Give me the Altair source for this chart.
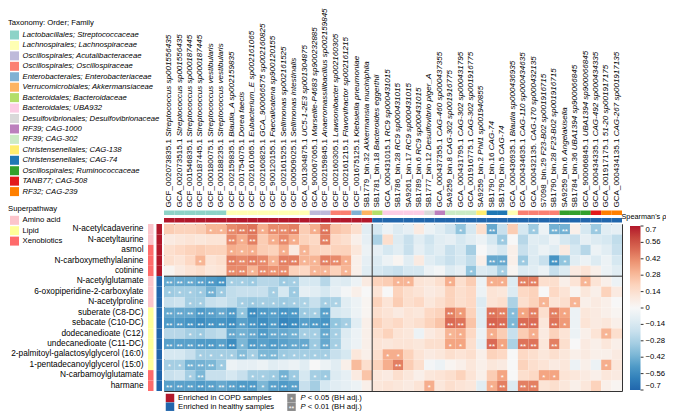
import altair as alt
import pandas as pd

FONT = "Liberation Sans"
FS = 8.3
CFS = 8.05
LFS = 7.7

# ---------------- data ----------------
accessions = [
    "GCF_002073835.1", "GCA_002073515.1", "GCF_001546835.1", "GCF_000187445.1",
    "GCF_000180075.1", "GCF_000188235.1", "GCF_002159835.1", "GCF_001754075.1",
    "GCF_002161065.1", "GCF_002160825.1", "GCF_900120155.1", "GCF_002161525.1",
    "GCF_000509025.1", "GCA_001304875.1", "GCA_900067065.1", "GCF_002159845.1",
    "GCF_002160305.1", "GCF_002161215.1", "GCF_001675125.1", "SB1779_bin.32",
    "SB1781_bin.18", "GCA_000431015.1", "SB1786_bin.28", "SA9261_bin.17",
    "SB1789_bin.6", "SB1777_bin.12", "GCA_000437355.1", "SA9259_bin.8",
    "GCA_000431795.1", "GCA_001916775.1", "SA9259_bin.2", "SB1790_bin.16",
    "SB1790_bin.5", "GCA_000436935.1", "GCA_000434635.1", "GCA_000432135.",
    "S7098_bin.29", "SB1790_bin.28", "SA9259_bin.6", "SB1784_bin.36",
    "GCA_900066845.1", "GCA_000434335.1", "GCA_001917175.1", "GCA_000434135.1",
]
species = [
    "Streptococcus sp001556435", "Streptococcus sp001556435", "Streptococcus sp000187445",
    "Streptococcus sp000187445", "Streptococcus vestibularis", "Streptococcus vestibularis",
    "Blautia_A sp002159835", "Dorea faecis", "Eubacterium_E sp002161065",
    "GCA_900066575 sp002160825", "Faecalicatena sp900120155", "Sellimonas sp002161525",
    "Sellimonas intestinalis", "UC5-1-2E3 sp001304875", "Marseille-P4683 sp900232885",
    "Anaeromassilibacillus sp002159845", "Lawsonibacter sp002160305", "Flavonifractor sp002161215",
    "Klebsiella pneumoniae", "Akkermansia muciniphila", "Bacteroides eggerthii",
    "RC9 sp000431015", "RC9 sp000431015", "RC9 sp000431015", "RC9 sp000431015",
    "Desulfovibrio piger_A", "CAG-460 sp000437355", "CAG-302 sp001916775",
    "CAG-302 sp000431795", "CAG-302 sp001916775", "Phil1 sp001940855", "CAG-74", "CAG-74",
    "Blautia sp000436935", "CAG-110 sp000434635", "CAG-170 sp000432135",
    "F23-B02 sp001916715", "F23-B02 sp001916715", "Angelakisella", "UBA1394 sp900066845",
    "UBA1394 sp900066845", "CAG-492 sp000434335", "51-20 sp001917175", "CAG-267 sp001917135",
]
taxa_order = [
    "Lactobacillales; Streptococcaceae", "Lachnospirales; Lachnospiraceae",
    "Oscillospirales; Acutalibacteraceae", "Oscillospirales; Oscillospiraceae",
    "Enterobacterales; Enterobacteriaceae", "Verrucomicrobiales; Akkermansiaceae",
    "Bacteroidales; Bacteroidaceae", "Bacteroidales; UBA932",
    "Desulfovibrionales; Desulfovibrionaceae", "RF39; CAG-1000", "RF39; CAG-302",
    "Christensenellales; CAG-138", "Christensenellales; CAG-74",
    "Oscillospirales; Ruminococcaceae", "TANB77; CAG-508", "RF32; CAG-239",
]
taxa_colors = [
    "#8dd3c7", "#ffffb3", "#bebada", "#fb8072", "#80b1d3", "#fdb462", "#b3de69", "#fccde5",
    "#d9d9d9", "#bc80bd", "#ccebc5", "#ffed6f", "#1f78b4", "#33a02c", "#e31a1c", "#ff7f00",
]
column_taxon = [0] * 6 + [1] * 8 + [2] * 2 + [3] * 2 + [4, 5, 6] + [7] * 4 + [8, 9] + [10] * 3 + \
    [11] + [12] * 2 + [1] + [3] * 4 + [13] * 3 + [14] + [15] * 2
enrich_levels = ["Enriched in COPD samples", "Enriched in healthy samples"]
enrich_colors = ["#b2182b", "#2166ac"]
column_enrich = [0] * 20 + [1] * 24

metabolites = [
    "N-acetylcadaverine", "N-acetyltaurine", "asmol", "N-carboxymethylalanine", "cotinine",
    "N-acetylglutamate", "6-oxopiperidine-2-carboxylate", "N-acetylproline",
    "suberate (C8-DC)", "sebacate (C10-DC)", "dodecanedioate (C12)", "undecanedioate (C11-DC)",
    "2-palmitoyl-galactosylglycerol (16:0)", "1-pentadecanoylglycerol (15:0)",
    "N-carbamoylglutamate", "harmane",
]
super_levels = ["Amino acid", "Lipid", "Xenobiotics"]
super_colors = ["#fcc5cb", "#ffff99", "#ff6b6b"]
row_super = [0, 0, 2, 2, 2, 0, 0, 0, 1, 1, 1, 1, 1, 1, 2, 2]
row_enrich = [0] * 5 + [1] * 11

rho = [
    [0.22, 0.2, 0.2, 0.22, 0.3, 0.3, 0.42, 0.45, 0.48, 0.32, 0.42, 0.42, 0.45, 0.22, 0.32, 0.48, 0.25, 0.22, 0.15, -0.1,
     -0.15, -0.05, -0.12, -0.08, 0.08, -0.05, -0.1, -0.18, -0.35, -0.15, 0.15, -0.45, -0.2, 0.22, -0.15, -0.32, -0.05, -0.42, -0.42, 0.05, -0.15, -0.32, -0.1, -0.08],
    [0.08, 0.1, 0.12, 0.1, 0.12, 0.12, 0.42, 0.32, 0.45, 0.22, 0.32, 0.42, 0.32, 0.2, 0.18, 0.45, 0.18, 0.15, 0.05, -0.08,
     -0.28, 0.15, -0.12, -0.2, -0.1, -0.18, -0.1, -0.08, -0.15, -0.1, -0.05, -0.15, -0.32, 0.0, -0.25, -0.1, -0.12, -0.05, -0.15, -0.2, -0.08, -0.12, -0.15, -0.22],
    [0.15, 0.18, 0.2, 0.22, 0.2, 0.2, 0.32, 0.3, 0.32, 0.22, 0.2, 0.32, 0.08, 0.3, 0.2, 0.18, 0.2, 0.2, 0.1, -0.05,
     -0.08, -0.15, -0.1, -0.2, -0.08, -0.15, -0.1, -0.2, -0.15, -0.3, 0.0, -0.08, -0.15, 0.05, -0.2, -0.12, -0.05, -0.1, 0.08, -0.15, -0.25, -0.05, -0.1, -0.2],
    [0.15, 0.12, 0.18, 0.3, 0.12, 0.15, 0.45, 0.42, 0.45, 0.42, 0.3, 0.45, 0.45, 0.3, 0.3, 0.45, 0.42, 0.32, 0.05, -0.08,
     -0.12, -0.05, 0.02, -0.1, 0.08, -0.1, -0.15, -0.2, -0.15, -0.22, 0.05, -0.45, -0.45, 0.05, -0.32, -0.12, -0.2, -0.52, -0.35, -0.1, -0.05, -0.12, -0.05, -0.15],
    [0.02, 0.08, 0.12, 0.15, 0.1, 0.12, 0.42, 0.42, 0.3, 0.42, 0.4, 0.42, 0.2, 0.18, 0.3, 0.3, 0.2, 0.3, 0.05, -0.1,
     -0.15, -0.18, -0.2, -0.15, -0.15, -0.05, -0.02, -0.12, -0.08, -0.35, -0.12, -0.15, -0.3, 0.02, -0.12, -0.1, -0.05, -0.2, -0.12, 0.08, 0.12, 0.05, -0.05, -0.1],
    [-0.45, -0.45, -0.45, -0.48, -0.5, -0.52, -0.3, -0.3, -0.32, -0.25, -0.25, -0.32, -0.3, -0.15, -0.15, -0.25, -0.1, -0.12, -0.05, 0.08,
     0.2, 0.22, 0.3, 0.3, 0.12, 0.1, 0.15, 0.32, 0.15, 0.22, -0.05, 0.32, 0.32, -0.12, 0.45, 0.45, 0.15, 0.15, 0.05, 0.12, 0.3, 0.12, 0.05, -0.05],
    [-0.32, -0.3, -0.3, -0.32, -0.42, -0.32, -0.22, -0.2, -0.2, -0.2, -0.3, -0.15, -0.32, -0.08, -0.1, -0.15, -0.08, -0.02, 0.05, 0.0,
     0.12, 0.0, 0.2, 0.15, 0.12, 0.08, 0.1, 0.2, 0.15, 0.18, -0.05, 0.12, 0.1, -0.12, 0.18, 0.2, 0.0, 0.18, 0.12, 0.02, 0.1, 0.05, 0.2, 0.08],
    [-0.2, -0.18, -0.3, -0.3, -0.2, -0.18, -0.22, -0.3, -0.32, -0.3, -0.3, -0.32, -0.3, -0.28, -0.2, -0.3, -0.28, -0.1, -0.05, 0.02,
     0.2, 0.12, 0.22, 0.15, 0.18, 0.1, 0.15, 0.2, 0.15, 0.18, -0.12, 0.12, 0.15, -0.28, 0.15, 0.2, 0.3, 0.12, 0.15, 0.3, 0.05, 0.08, 0.05, 0.0],
    [-0.45, -0.45, -0.45, -0.5, -0.48, -0.45, -0.5, -0.35, -0.55, -0.5, -0.48, -0.52, -0.5, -0.32, -0.3, -0.48, -0.15, -0.12, -0.05, 0.02,
     0.15, 0.12, 0.08, 0.12, 0.1, 0.18, 0.2, 0.45, 0.38, 0.2, -0.1, 0.48, 0.45, -0.38, 0.35, 0.45, 0.15, 0.45, 0.35, -0.05, 0.1, 0.08, 0.05, 0.02],
    [-0.5, -0.5, -0.52, -0.55, -0.52, -0.52, -0.55, -0.48, -0.52, -0.55, -0.5, -0.58, -0.55, -0.48, -0.5, -0.52, -0.35, -0.3, -0.1, 0.05,
     0.2, 0.15, 0.18, 0.12, 0.15, 0.2, 0.25, 0.5, 0.48, 0.25, -0.1, 0.52, 0.5, -0.4, 0.5, 0.5, 0.1, 0.48, 0.38, -0.05, 0.12, 0.08, 0.1, 0.05],
    [-0.25, -0.25, -0.3, -0.32, -0.25, -0.22, -0.45, -0.42, -0.45, -0.5, -0.45, -0.45, -0.42, -0.3, -0.3, -0.45, -0.3, -0.12, -0.05, 0.05,
     0.15, 0.2, 0.12, 0.1, -0.05, 0.08, 0.12, 0.3, 0.32, 0.18, -0.05, 0.32, 0.22, -0.2, 0.22, 0.32, 0.08, 0.2, 0.12, -0.05, 0.05, 0.12, 0.3, 0.15],
    [-0.48, -0.48, -0.48, -0.5, -0.5, -0.48, -0.55, -0.4, -0.5, -0.48, -0.5, -0.48, -0.45, -0.45, -0.32, -0.45, -0.3, -0.1, -0.05, 0.05,
     0.12, 0.1, 0.12, 0.12, 0.1, 0.15, 0.15, 0.35, 0.35, 0.15, -0.08, 0.5, 0.35, -0.28, 0.48, 0.48, 0.1, 0.45, 0.15, 0.0, 0.08, 0.05, 0.1, 0.05],
    [-0.15, -0.15, -0.2, -0.3, -0.3, -0.3, -0.3, -0.38, -0.3, -0.4, -0.4, -0.32, -0.3, -0.3, -0.3, -0.3, -0.2, -0.15, 0.1, 0.05,
     0.15, 0.32, 0.32, 0.2, 0.12, 0.08, 0.1, 0.15, 0.12, 0.15, 0.05, 0.2, 0.18, 0.0, 0.18, 0.15, 0.1, 0.15, 0.1, 0.05, 0.08, 0.05, 0.05, 0.08],
    [-0.3, -0.3, -0.42, -0.42, -0.4, -0.32, -0.05, -0.08, -0.08, -0.05, -0.1, -0.08, -0.05, -0.1, 0.0, -0.05, -0.1, 0.05, 0.28, 0.15,
     0.2, 0.32, 0.45, 0.22, 0.15, -0.02, -0.05, 0.02, 0.05, 0.1, 0.05, 0.1, 0.08, 0.0, 0.2, 0.15, 0.12, 0.08, 0.1, -0.05, 0.05, -0.05, 0.32, 0.1],
    [-0.2, -0.18, -0.3, -0.4, -0.2, -0.2, -0.15, -0.2, -0.3, -0.3, -0.32, -0.42, -0.32, -0.15, -0.3, -0.32, -0.12, -0.08, 0.08, 0.25,
     0.1, 0.08, 0.15, 0.1, 0.05, 0.1, 0.12, 0.15, 0.2, 0.12, 0.05, 0.22, 0.35, 0.0, 0.15, 0.18, 0.35, 0.35, 0.12, 0.1, 0.08, 0.05, 0.1, 0.08],
    [-0.48, -0.48, -0.48, -0.5, -0.48, -0.45, -0.48, -0.5, -0.5, -0.4, -0.48, -0.5, -0.48, -0.2, -0.3, -0.15, -0.1, -0.08, -0.05, 0.05,
     0.1, 0.12, 0.1, 0.08, 0.12, 0.32, 0.1, 0.15, 0.12, 0.1, -0.1, 0.32, 0.45, -0.12, 0.45, 0.45, 0.12, 0.15, 0.1, 0.05, 0.1, 0.2, 0.05, 0.02],
]
# significance per row: {column number (1-based): 1 = P<0.05, 2 = P<0.01}
sig_marks = [
    {5: 1, 6: 1, 7: 2, 8: 2, 9: 2, 10: 1, 11: 2, 12: 2, 13: 2, 15: 1, 16: 2, 29: 1, 32: 2, 36: 1, 38: 2, 39: 2, 42: 1},
    {7: 2, 8: 1, 9: 2, 11: 1, 12: 2, 13: 1, 16: 2, 33: 1},
    {7: 1, 8: 1, 9: 1, 12: 1, 14: 1},
    {4: 1, 7: 2, 8: 2, 9: 2, 10: 2, 11: 1, 12: 2, 13: 2, 14: 1, 15: 1, 16: 2, 17: 2, 18: 1, 32: 2, 33: 2, 35: 1, 38: 2, 39: 1},
    {7: 2, 8: 2, 9: 1, 10: 2, 11: 2, 12: 2, 15: 1, 16: 1, 18: 1, 30: 1, 33: 1},
    {1: 2, 2: 2, 3: 2, 4: 2, 5: 2, 6: 2, 7: 1, 8: 1, 9: 1, 12: 1, 13: 1, 23: 1, 24: 1, 28: 1, 32: 1, 33: 1, 35: 2, 36: 2, 41: 1},
    {1: 1, 2: 1, 3: 1, 4: 1, 5: 2, 6: 1, 11: 1, 13: 1},
    {3: 1, 4: 1, 8: 1, 9: 1, 10: 1, 11: 1, 12: 1, 13: 1, 14: 1, 16: 1, 17: 1, 37: 1, 40: 1},
    {1: 2, 2: 2, 3: 2, 4: 2, 5: 2, 6: 2, 7: 2, 8: 1, 9: 2, 10: 2, 11: 2, 12: 2, 13: 2, 14: 1, 15: 1, 16: 2,
     28: 2, 29: 1, 32: 2, 33: 2, 34: 1, 35: 1, 36: 2, 38: 2, 39: 1},
    {1: 2, 2: 2, 3: 2, 4: 2, 5: 2, 6: 2, 7: 2, 8: 2, 9: 2, 10: 2, 11: 2, 12: 2, 13: 2, 14: 2, 15: 2, 16: 2, 17: 1, 18: 1,
     28: 2, 29: 2, 32: 2, 33: 2, 34: 1, 35: 2, 36: 2, 38: 2, 39: 1},
    {3: 1, 4: 1, 7: 2, 8: 2, 9: 2, 10: 2, 11: 2, 12: 2, 13: 2, 14: 1, 15: 1, 16: 2, 17: 1, 28: 1, 29: 1, 32: 1, 36: 1, 43: 1},
    {1: 2, 2: 2, 3: 2, 4: 2, 5: 2, 6: 2, 7: 2, 8: 1, 9: 2, 10: 2, 11: 2, 12: 2, 13: 2, 14: 2, 15: 1, 16: 2, 17: 1,
     28: 1, 29: 1, 32: 2, 33: 1, 35: 2, 36: 2, 38: 2},
    {4: 1, 5: 1, 6: 1, 7: 1, 8: 2, 9: 1, 10: 2, 11: 2, 12: 1, 13: 1, 14: 1, 15: 1, 16: 1, 22: 1, 23: 1},
    {1: 1, 2: 1, 3: 2, 4: 2, 5: 2, 6: 1, 23: 2, 43: 1},
    {3: 1, 4: 2, 9: 1, 10: 1, 11: 1, 12: 2, 13: 1, 15: 1, 16: 1, 33: 1, 37: 1, 38: 1},
    {1: 2, 2: 2, 3: 2, 4: 2, 5: 2, 6: 2, 7: 2, 8: 2, 9: 2, 10: 1, 11: 2, 12: 2, 13: 2, 26: 1, 32: 1, 33: 2, 35: 2, 36: 2},
]
sig_levels = ["*", "**"]
sig_texts = ["< 0.05 (BH adj.)", "< 0.01 (BH adj.)"]

rho_stops = [-0.7, -0.525, -0.35, -0.175, 0.0, 0.175, 0.35, 0.525, 0.7]
rho_colors = ["#2166ac", "#4393c3", "#92c5de", "#d1e5f0", "#f7f7f7",
              "#fddbc7", "#f4a582", "#d6604d", "#b2182b"]
rho_ticks = [0.7, 0.56, 0.42, 0.28, 0.14, 0.0, -0.14, -0.28, -0.42, -0.56, -0.7]

# ---------------- tables ----------------
col_keys = [f"c{i + 1:02d}" for i in range(len(accessions))]

# approximate Arial / Liberation Sans advance widths (1/1000 em) for label offsets
ADV = {c: 556 for c in "0123456789"}
ADV.update({".": 278, "_": 556, " ": 278, "-": 333, "G": 778, "C": 722, "F": 611,
            "A": 667, "S": 667, "B": 667, "b": 556, "i": 222, "n": 556, "P": 667})


def text_width(s, size):
    return sum(ADV.get(ch, 556) for ch in s) * size / 1000.0


LABEL_Y = -16.5
cols_df = pd.DataFrame({
    "col": col_keys,
    "acc": accessions,
    "sp": species,
    "sp_y": [LABEL_Y - text_width(a + " ", CFS) for a in accessions],
    "taxon": [taxa_order[t] for t in column_taxon],
    "enrich": [enrich_levels[e] for e in column_enrich],
    "strip_tax": "tax",
    "strip_enr": "enr",
})
rows_df = pd.DataFrame({
    "met": metabolites,
    "super": [super_levels[s] for s in row_super],
    "enrich": [enrich_levels[e] for e in row_enrich],
    "side_sp": "sp",
    "side_enr": "enr",
})
cells = []
for r, met in enumerate(metabolites):
    for c, key in enumerate(col_keys):
        lvl = sig_marks[r].get(c + 1, 0)
        cells.append({"met": met, "col": key, "rho": rho[r][c], "stars": "*" * lvl})
cells_df = pd.DataFrame(cells)

tax_leg_df = pd.DataFrame({"taxon": taxa_order})
sup_leg_df = pd.DataFrame({"super": super_levels})
enr_leg_df = pd.DataFrame({"enrich": enrich_levels})
sig_df = pd.DataFrame({"lvl": sig_levels, "rest": sig_texts, "P": ["P", "P"]})
tick_df = pd.DataFrame({"v": rho_ticks})

# ---------------- scales ----------------
xs = alt.Scale(type="band", domain=col_keys, paddingInner=0, paddingOuter=0)
ys = alt.Scale(type="band", domain=metabolites, paddingInner=0, paddingOuter=0)
strip_y = alt.Scale(type="band", domain=["tax", "enr"], range=[-13.5, -1.5], paddingInner=0.4, paddingOuter=0)
side_x = alt.Scale(type="band", domain=["sp", "enr"], range=[-16, -2], paddingInner=0.35, paddingOuter=0)
tax_c = alt.Scale(domain=taxa_order, range=taxa_colors)
sup_c = alt.Scale(domain=super_levels, range=super_colors)
enr_c = alt.Scale(domain=enrich_levels, range=enrich_colors)
GRAD_TOP, GRAD_LEN = 2, 164
tick_y = alt.Scale(domain=[-0.7, 0.7], range=[GRAD_TOP + GRAD_LEN, GRAD_TOP])

# legend layout scales (pixel ranges relative to the heat map's top-left corner)
tax_leg_y = alt.Scale(type="point", domain=taxa_order, range=[-189, -32.4], padding=0)
sup_leg_y = alt.Scale(type="point", domain=super_levels, range=[-3.7, 17.1], padding=0)
enr_leg_y = alt.Scale(type="point", domain=enrich_levels, range=[174, 182.7], padding=0)
sig_leg_y = alt.Scale(type="point", domain=sig_levels, range=[174, 182.7], padding=0)
LEG_X0 = -156  # left edge of the left-hand legends

X = alt.X("col:N", scale=xs, axis=None)
Y = alt.Y("met:N", scale=ys, axis=None)

heat = alt.Chart(cells_df).mark_rect().encode(
    x=X,
    y=alt.Y("met:N", scale=ys, axis=alt.Axis(
        title=None, domain=False, ticks=False, labelPadding=21, labelFontSize=FS,
        labelColor="black", labelFont=FONT, labelLimit=300)),
    color=alt.Color("rho:Q", scale=alt.Scale(domain=rho_stops, range=rho_colors, clamp=True),
                    legend=alt.Legend(
                        title=None, orient="none", legendX=466, legendY=GRAD_TOP,
                        direction="vertical", gradientLength=GRAD_LEN, gradientThickness=10.5,
                        gradientStrokeWidth=0, values=rho_ticks, format=".2~f",
                        labelExpr="replace(datum.label, '-', '−')",
                        labelFontSize=7.7, labelFont=FONT, labelColor="black", labelOffset=5,
                        padding=0)),
)
grad_ticks = alt.Chart(tick_df).mark_rule(color="black", strokeWidth=0.8).encode(
    x=alt.value(476.5), x2=alt.value(479.5), y=alt.Y("v:Q", scale=tick_y, axis=None))

stars = alt.Chart(cells_df).mark_text(
    color="white", fontSize=8, font=FONT, baseline="middle", dy=2.5
).encode(x=X, y=Y, text="stars:N")

vsep = alt.Chart(pd.DataFrame({"col": [col_keys[20]]})).mark_rule(
    color="#333333", strokeWidth=1).encode(x=alt.X("col:N", scale=xs, axis=None, bandPosition=0))
hsep = alt.Chart(pd.DataFrame({"met": [metabolites[5]]})).mark_rule(
    color="#333333", strokeWidth=1).encode(y=alt.Y("met:N", scale=ys, axis=None, bandPosition=0))

tax_strip = alt.Chart(cols_df).mark_rect().encode(
    x=X, y=alt.Y("strip_tax:N", scale=strip_y, axis=None),
    color=alt.Color("taxon:N", scale=tax_c, legend=None))
enr_strip = alt.Chart(cols_df).mark_rect().encode(
    x=X, y=alt.Y("strip_enr:N", scale=strip_y, axis=None),
    color=alt.Color("enrich:N", scale=enr_c, legend=None))
super_side = alt.Chart(rows_df).mark_rect().encode(
    x=alt.X("side_sp:N", scale=side_x, axis=None), y=Y,
    color=alt.Color("super:N", scale=sup_c, legend=None))
enr_side = alt.Chart(rows_df).mark_rect().encode(
    x=alt.X("side_enr:N", scale=side_x, axis=None), y=Y,
    color=alt.Color("enrich:N", scale=enr_c, legend=None))

acc_text = alt.Chart(cols_df).mark_text(
    angle=270, align="left", baseline="middle", fontSize=CFS, font=FONT, color="black"
).encode(x=X, y=alt.value(LABEL_Y), text="acc:N")
sp_text = alt.Chart(cols_df).mark_text(
    angle=270, align="left", baseline="middle", fontSize=CFS, font=FONT, fontStyle="italic", color="black"
).encode(x=X, y=alt.Y("sp_y:Q", scale=None, axis=None), text="sp:N")


# ----- legends -----
def title_text(txt, x, y, size=LFS):
    return alt.Chart(pd.DataFrame({"t": [txt]})).mark_text(
        align="left", baseline="middle", fontSize=size, font=FONT, color="black"
    ).encode(x=alt.value(x), y=alt.value(y), text="t:N")


tax_title = title_text("Taxonomy: Order; Family", LEG_X0, -201)
sup_title = title_text("Superpathway", LEG_X0, -15)
rho_title = title_text("Spearman's ρ", 457.5, -7, 7.3)

tax_sw = alt.Chart(tax_leg_df).mark_square(size=81, opacity=1, strokeWidth=0).encode(
    x=alt.value(LEG_X0 + 6.5), y=alt.Y("taxon:N", scale=tax_leg_y, axis=None),
    color=alt.Color("taxon:N", scale=tax_c, legend=None))
tax_lb = alt.Chart(tax_leg_df).mark_text(
    align="left", baseline="middle", fontSize=LFS, font=FONT, fontStyle="italic", color="black"
).encode(x=alt.value(LEG_X0 + 14.5), y=alt.Y("taxon:N", scale=tax_leg_y, axis=None), text="taxon:N")

sup_sw = alt.Chart(sup_leg_df).mark_square(size=81, opacity=1, strokeWidth=0).encode(
    x=alt.value(LEG_X0 + 6.5), y=alt.Y("super:N", scale=sup_leg_y, axis=None),
    color=alt.Color("super:N", scale=sup_c, legend=None))
sup_lb = alt.Chart(sup_leg_df).mark_text(
    align="left", baseline="middle", fontSize=LFS, font=FONT, color="black"
).encode(x=alt.value(LEG_X0 + 14.5), y=alt.Y("super:N", scale=sup_leg_y, axis=None), text="super:N")

enr_sw = alt.Chart(enr_leg_df).mark_square(size=72, opacity=1, strokeWidth=0).encode(
    x=alt.value(6), y=alt.Y("enrich:N", scale=enr_leg_y, axis=None),
    color=alt.Color("enrich:N", scale=enr_c, legend=None))
enr_lb = alt.Chart(enr_leg_df).mark_text(
    align="left", baseline="middle", fontSize=LFS, font=FONT, color="black"
).encode(x=alt.value(14), y=alt.Y("enrich:N", scale=enr_leg_y, axis=None), text="enrich:N")

SIG_X = 127.5
sig_box = alt.Chart(sig_df).mark_square(size=72, color="#8a8a8a", opacity=1, strokeWidth=0).encode(
    x=alt.value(SIG_X), y=alt.Y("lvl:N", scale=sig_leg_y, axis=None))
sig_star = alt.Chart(sig_df).mark_text(color="white", fontSize=7, font=FONT, baseline="middle", dy=2.2).encode(
    x=alt.value(SIG_X), y=alt.Y("lvl:N", scale=sig_leg_y, axis=None), text="lvl:N")
sig_p = alt.Chart(sig_df).mark_text(align="left", baseline="middle", fontSize=LFS, font=FONT,
                                    fontStyle="italic", color="black").encode(
    x=alt.value(SIG_X + 9), y=alt.Y("lvl:N", scale=sig_leg_y, axis=None), text="P:N")
sig_rest = alt.Chart(sig_df).mark_text(align="left", baseline="middle", fontSize=LFS, font=FONT,
                                       color="black").encode(
    x=alt.value(SIG_X + 9 + text_width("P ", LFS)), y=alt.Y("lvl:N", scale=sig_leg_y, axis=None),
    text="rest:N")

chart = alt.layer(
    heat, grad_ticks, stars, vsep, hsep, tax_strip, enr_strip, super_side, enr_side,
    acc_text, sp_text, tax_title, sup_title, rho_title, tax_sw, tax_lb, sup_sw, sup_lb,
    enr_sw, enr_lb, sig_box, sig_star, sig_p, sig_rest,
).resolve_scale(
    x="independent", y="independent", color="independent"
).properties(
    width=458, height=167,
    padding={"left": 156, "top": 216, "right": 44, "bottom": 20},
    autosize=alt.AutoSizeParams(type="none"),
).configure(font=FONT).configure_view(stroke="#333333", strokeWidth=1)

chart.save("out.html", embed_options={"renderer": "svg", "actions": False})
